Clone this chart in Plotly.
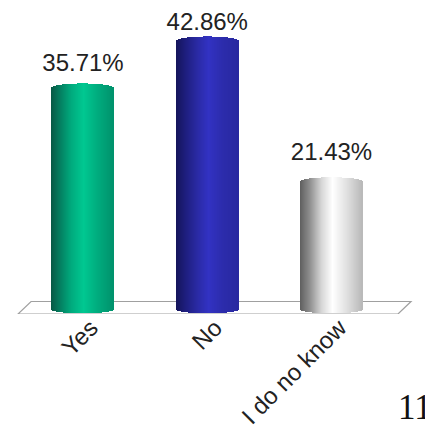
import numpy as np
import plotly.graph_objects as go

categories = ["Yes", "No", "I do no know"]
shares = [35.71, 42.86, 21.43]
share_labels = ["35.71%", "42.86%", "21.43%"]
positions = [0, 1, 2]

# Horizontal light falloff across each cylinder: (offset from axis, r, g, b)
green_shade = [(-1, 8, 88, 68), (-0.72, 4, 125, 95), (-0.35, 0, 170, 125), (0.05, 0, 200, 145), (0.5, 0, 172, 126), (1, 0, 146, 108)]
blue_shade = [(-1, 20, 20, 90), (-0.7, 30, 30, 125), (-0.3, 42, 42, 165), (0.05, 50, 50, 195), (0.5, 44, 44, 172), (1, 40, 40, 160)]
grey_shade = [(-1, 95, 95, 95), (-0.7, 140, 140, 140), (-0.3, 215, 215, 215), (0.05, 255, 255, 255), (0.5, 225, 225, 225), (1, 185, 185, 185)]
shades = [green_shade, blue_shade, grey_shade]

AXIS_FLOOR = 2.0      # value where the cylinders stand
BAR_WIDTH = 0.499
STRIPS = 62
TOP_BULGE = 0.68
BOTTOM_BULGE = 0.6
LABEL_GAPS = [16, 6, 24]   # invisible marker sizes that lift each value label


def shade_at(stops, u):
    table = np.array(stops, dtype=float)
    rgb = [np.interp(u, table[:, 0], table[:, c]) for c in (1, 2, 3)]
    return "rgb({:.0f},{:.0f},{:.0f})".format(*rgb)


fig = go.Figure()

# Each cylinder is a run of narrow bars shaded across its width, with
# elliptical ends formed by lengthening the strips towards the axis.
u = (np.arange(STRIPS) + 0.5) / STRIPS * 2 - 1
curve = np.sqrt(1 - u ** 2)
for pos, value, stops in zip(positions, shares, shades):
    base = AXIS_FLOOR - BOTTOM_BULGE * curve
    top = value + TOP_BULGE * curve
    fig.add_trace(go.Bar(
        x=pos + u * BAR_WIDTH / 2,
        y=top - base,
        base=base,
        width=BAR_WIDTH / STRIPS * 1.25,
        marker=dict(color=[shade_at(stops, s) for s in u], line=dict(width=0)),
        hoverinfo="skip",
        showlegend=False,
    ))

fig.add_trace(go.Scatter(
    x=positions,
    y=shares,
    mode="markers+text",
    text=share_labels,
    textposition="top center",
    textfont=dict(family="Liberation Sans, Arial, sans-serif", size=24, color="#222222"),
    marker=dict(size=LABEL_GAPS, opacity=0),
    hoverinfo="skip",
    showlegend=False,
))

# Perspective floor under the columns
floor_front, floor_back = 1.29, 3.19
left_front, right_front = -0.523, 2.535
left_back, right_back = -0.418, 2.64
fig.add_shape(
    type="path",
    xref="x",
    yref="y",
    path=(f"M {left_front} {floor_front} L {right_front} {floor_front} "
          f"L {right_back} {floor_back} L {left_back} {floor_back} Z"),
    line=dict(color="#a0a0a0", width=1.2),
    fillcolor="white",
    layer="below",
)

# Page number at the corner
fig.add_annotation(
    text="11",
    xref="paper",
    yref="paper",
    x=396 / 425,
    y=-(430 - 314.5) / 314.5,
    xanchor="left",
    yanchor="bottom",
    showarrow=False,
    font=dict(family="Liberation Serif, Times New Roman, serif", size=35, color="#111111"),
)

fig.update_layout(
    width=425,
    height=432,
    margin=dict(l=0, r=0, t=0, b=117.5),
    paper_bgcolor="white",
    plot_bgcolor="white",
    barmode="overlay",
    bargap=0,
    showlegend=False,
    xaxis=dict(
        range=[-0.668, 2.7525],
        tickmode="array",
        tickvals=positions,
        ticktext=categories,
        tickangle=-45,
        ticklabelshift=8,
        ticklabelstandoff=-6,
        tickfont=dict(family="Liberation Sans, Arial, sans-serif", size=24, color="#222222"),
        showgrid=False,
        zeroline=False,
        showline=False,
        ticks="",
        fixedrange=True,
    ),
    yaxis=dict(
        range=[floor_front, 49.09],
        visible=False,
        fixedrange=True,
    ),
)

fig.write_html("out.html", config=dict(displayModeBar=False))
